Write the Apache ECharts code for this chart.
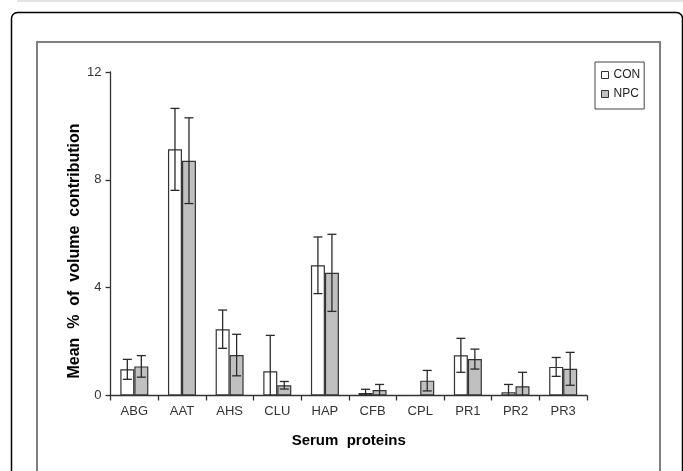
<!DOCTYPE html>
<html>
<head>
<meta charset="utf-8">
<script src="https://cdn.jsdelivr.net/npm/echarts@6/dist/echarts.min.js"></script>
<style>html,body{margin:0;padding:0;background:#fff}#c{width:683px;height:471px}</style>
</head>
<body>
<div id="c"></div>
<script>
var categories = ['ABG','AAT','AHS','CLU','HAP','CFB','CPL','PR1','PR2','PR3'];
var conValues = [0.97, 9.13, 2.46, 0.90, 4.83, 0.09, 0, 1.49, 0.12, 1.06];
var conErrors = [0.37, 1.52, 0.71, 1.33, 1.05, 0.14, 0, 0.63, 0.29, 0.35];
var npcValues = [1.08, 8.71, 1.50, 0.38, 4.55, 0.20, 0.55, 1.35, 0.34, 0.99];
var npcErrors = [0.40, 1.59, 0.77, 0.14, 1.43, 0.21, 0.38, 0.37, 0.52, 0.61];
var yTicks = [0, 4, 8, 12];

var BAR_W = 14;
var FONT = 'Liberation Sans, Arial, sans-serif';

function errorSeries(name, values, errors, offset) {
  var data = values.map(function (v, i) { return [i, v, errors[i]]; });
  return {
    type: 'custom',
    name: name + ' err',
    z: 5,
    silent: true,
    data: data,
    renderItem: function (params, api) {
      var i = api.value(0), v = api.value(1), e = api.value(2);
      if (!e) return null;
      var top = api.coord([i, v + e]);
      var lo = Math.max(0, v - e);
      var bot = api.coord([i, lo]);
      var x = top[0] + offset;
      var half = 4.5;
      var style = { stroke: '#2a2a2a', lineWidth: 1.3 };
      var children = [
        { type: 'line', shape: { x1: x, y1: top[1], x2: x, y2: bot[1] }, style: style },
        { type: 'line', shape: { x1: x - half, y1: top[1], x2: x + half, y2: top[1] }, style: style }
      ];
      if (v - e > 0) {
        children.push({ type: 'line', shape: { x1: x - half, y1: bot[1], x2: x + half, y2: bot[1] }, style: style });
      }
      return { type: 'group', children: children };
    }
  };
}

var chart = echarts.init(document.getElementById('c'), null, { renderer: 'canvas' });
chart.setOption({
  animation: false,
  backgroundColor: '#fff',
  graphic: [
    { type: 'rect', shape: { x: 17, y: 0, width: 700, height: 2 }, style: { fill: '#e4e4e4' }, silent: true },
    { type: 'rect', shape: { x: 11.5, y: 12.5, width: 671, height: 520, r: 6 }, style: { fill: 'none', stroke: '#000', lineWidth: 1.5 }, silent: true },
    { type: 'rect', shape: { x: 37, y: 42, width: 623, height: 520 }, style: { fill: 'none', stroke: '#808080', lineWidth: 2 }, silent: true },
    { type: 'text', x: 75, y: 251, rotation: Math.PI / 2, style: { text: 'Mean  %  of  volume  contribution', font: 'bold 16px ' + FONT, fill: '#000', textAlign: 'center', textVerticalAlign: 'middle' }, silent: true }
  ],
  grid: { left: 110.5, right: 96, top: 72, bottom: 75.5, containLabel: false },
  legend: {
    orient: 'vertical',
    left: 595,
    top: 62,
    padding: [7, 4, 9, 6],
    itemGap: 7,
    itemWidth: 7,
    itemHeight: 7,
    itemTextGap: 1,
    borderColor: '#444',
    borderWidth: 1,
    textStyle: { fontSize: 12, color: '#222', fontFamily: FONT },
    data: [
      { name: 'CON', icon: 'rect', itemStyle: { color: '#fff', borderColor: '#333', borderWidth: 1 } },
      { name: 'NPC', icon: 'rect', itemStyle: { color: '#c0c0c0', borderColor: '#333', borderWidth: 1 } }
    ]
  },
  xAxis: {
    type: 'category',
    data: categories,
    name: 'Serum  proteins',
    nameLocation: 'middle',
    nameGap: 38,
    nameTextStyle: { fontSize: 15, fontWeight: 'bold', color: '#000', fontFamily: FONT },
    axisLine: { lineStyle: { color: '#333', width: 1.3 } },
    axisTick: { show: true, length: 5, lineStyle: { color: '#333', width: 1.3 } },
    axisLabel: { fontSize: 13, color: '#333', fontFamily: FONT, margin: 9 },
    splitLine: { show: false }
  },
  yAxis: {
    type: 'value',
    min: 0,
    max: 12,
    interval: 4,
    axisLine: { show: true, lineStyle: { color: '#333', width: 1.3 } },
    axisTick: { show: true, length: 5, lineStyle: { color: '#333', width: 1.3 } },
    axisLabel: { fontSize: 13, color: '#333', fontFamily: FONT, margin: 9,
      formatter: function (v) { return yTicks.indexOf(v) >= 0 ? String(v) : ''; } },
    splitLine: { show: false }
  },
  series: [
    { name: 'CON', type: 'bar', data: conValues, barWidth: BAR_W, barGap: '0%',
      itemStyle: { color: '#fff', borderColor: '#333', borderWidth: 1.2 } },
    { name: 'NPC', type: 'bar', data: npcValues, barWidth: BAR_W, barGap: '0%',
      itemStyle: { color: '#c0c0c0', borderColor: '#333', borderWidth: 1.2 } },
    errorSeries('CON', conValues, conErrors, -BAR_W / 2),
    errorSeries('NPC', npcValues, npcErrors, BAR_W / 2)
  ]
});
</script>
</body>
</html>
